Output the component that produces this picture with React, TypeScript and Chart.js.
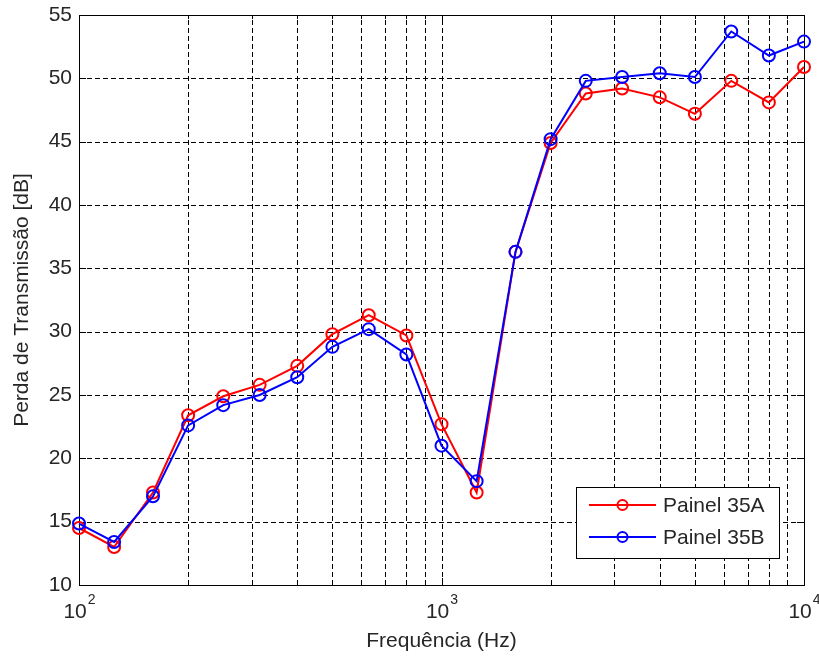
import React, { useEffect, useRef } from 'react';
import { Chart, registerables } from 'chart.js';

Chart.register(...registerables);

const frequencies = [100, 125, 160, 200, 250, 315, 400, 500, 630, 800, 1000, 1250, 1600, 2000, 2500, 3150, 4000, 5000, 6300, 8000, 10000];
const painel35A = [14.5, 13.0, 17.3, 23.4, 24.9, 25.8, 27.3, 29.8, 31.3, 29.7, 22.7, 17.3, 36.3, 44.9, 48.8, 49.2, 48.5, 47.2, 49.8, 48.1, 50.9];
const painel35B = [14.85, 13.4, 17.0, 22.6, 24.2, 25.0, 26.4, 28.8, 30.2, 28.2, 21.0, 18.2, 36.3, 45.2, 49.8, 50.1, 50.4, 50.1, 53.7, 51.8, 52.9];

const seriesLabels = ['Painel 35A', 'Painel 35B'];
const seriesColors = ['#ff0000', '#0000ff'];

const xGridValues = [100, 200, 300, 400, 500, 600, 700, 800, 900, 1000, 2000, 3000, 4000, 5000, 6000, 7000, 8000, 9000, 10000];
const xLabelValues = [100, 1000, 10000];
const xLabelExponents = ['2', '3', '4'];
const yMin = 10;
const yMax = 55;
const yStep = 5;

const xTitle = 'Frequência (Hz)';
const yTitle = 'Perda de Transmissão [dB]';

const FONT = '"Liberation Sans", Arial, sans-serif';
const TEXT = '#262626';

const decorPlugin = {
  id: 'decor',
  beforeDatasetsDraw(chart: any) {
    const { ctx, chartArea: a, scales } = chart;
    ctx.save();
    ctx.strokeStyle = '#000';
    ctx.lineWidth = 1;
    // dashed grid
    ctx.setLineDash([5, 3]);
    ctx.beginPath();
    for (let v = yMin + yStep; v < yMax; v += yStep) {
      const y = Math.round(scales.y.getPixelForValue(v)) + 0.5;
      ctx.moveTo(a.left, y); ctx.lineTo(a.right, y);
    }
    ctx.stroke();
    ctx.beginPath();
    xGridValues.forEach((v) => {
      if (v === 100 || v === 10000) return;
      const x = Math.round(scales.x.getPixelForValue(v)) + 0.5;
      ctx.moveTo(x, a.bottom); ctx.lineTo(x, a.top);
    });
    ctx.stroke();
    ctx.setLineDash([]);
    // inward tick marks
    ctx.beginPath();
    for (let v = yMin; v <= yMax; v += yStep) {
      const y = Math.round(scales.y.getPixelForValue(v)) + 0.5;
      ctx.moveTo(a.left, y); ctx.lineTo(a.left + 7, y);
      ctx.moveTo(a.right, y); ctx.lineTo(a.right - 7, y);
    }
    xGridValues.forEach((v) => {
      const x = Math.round(scales.x.getPixelForValue(v)) + 0.5;
      const len = xLabelValues.includes(v) ? 7 : 4;
      ctx.moveTo(x, a.bottom); ctx.lineTo(x, a.bottom - len);
      ctx.moveTo(x, a.top); ctx.lineTo(x, a.top + len);
    });
    ctx.stroke();
    ctx.strokeRect(Math.round(a.left) + 0.5, Math.round(a.top) + 0.5, Math.round(a.right - a.left), Math.round(a.bottom - a.top));
    ctx.restore();
  },
  afterDraw(chart: any) {
    const { ctx, chartArea: a, scales } = chart;
    ctx.save();
    ctx.fillStyle = TEXT;
    ctx.textBaseline = 'middle';
    ctx.textAlign = 'left';
    xLabelValues.forEach((v, i) => {
      const x = scales.x.getPixelForValue(v);
      ctx.font = `21px ${FONT}`;
      const bw = ctx.measureText('10').width;
      ctx.font = `14px ${FONT}`;
      const ew = ctx.measureText(xLabelExponents[i]).width;
      const start = x - (bw + ew) / 2;
      ctx.font = `21px ${FONT}`;
      ctx.fillText('10', start, a.bottom + 27);
      ctx.font = `14px ${FONT}`;
      ctx.fillText(xLabelExponents[i], start + bw + 1, a.bottom + 15);
    });
    // legend
    const bx = a.right - 228;
    const by = a.bottom - 98;
    const bw = 203;
    const bh = 71;
    ctx.fillStyle = '#fff';
    ctx.fillRect(bx, by, bw, bh);
    ctx.strokeStyle = '#000';
    ctx.lineWidth = 1;
    ctx.strokeRect(Math.round(bx) + 0.5, Math.round(by) + 0.5, bw, bh);
    const rows = [by + 18, by + 50];
    chart.data.datasets.forEach((ds: any, i: number) => {
      const y = rows[i];
      ctx.strokeStyle = ds.borderColor;
      ctx.lineWidth = 2;
      ctx.beginPath();
      ctx.moveTo(bx + 13, y);
      ctx.lineTo(bx + 80, y);
      ctx.stroke();
      ctx.beginPath();
      ctx.arc(bx + 46.5, y, 5, 0, Math.PI * 2);
      ctx.stroke();
      ctx.fillStyle = TEXT;
      ctx.font = `21px ${FONT}`;
      ctx.textAlign = 'left';
      ctx.textBaseline = 'middle';
      ctx.fillText(ds.label, bx + 87, y + 1);
    });
    ctx.restore();
  },
};

export default function App() {
  const ref = useRef<HTMLCanvasElement | null>(null);
  useEffect(() => {
    document.body.style.margin = '0';
    if (!ref.current) return;
    const makeData = (vals: number[]) => frequencies.map((f, i) => ({ x: f, y: vals[i] }));
    const ds = (i: number, vals: number[], order: number) => ({
      label: seriesLabels[i],
      data: makeData(vals),
      borderColor: seriesColors[i],
      backgroundColor: 'rgba(0,0,0,0)',
      borderWidth: 2,
      pointRadius: 6,
      pointBorderWidth: 2,
      pointBackgroundColor: 'rgba(0,0,0,0)',
      pointBorderColor: seriesColors[i],
      tension: 0,
      clip: false as any,
      order,
    });
    const chart = new Chart(ref.current, {
      type: 'line',
      data: {
        datasets: [ds(0, painel35A, 1), ds(1, painel35B, 0)],
      },
      options: {
        responsive: false,
        animation: false,
        layout: { padding: { top: 15, right: 15, left: 0, bottom: 0 } },
        plugins: { legend: { display: false }, tooltip: { enabled: false } },
        scales: {
          x: {
            type: 'logarithmic',
            min: 100,
            max: 10000,
            afterBuildTicks: (scale: any) => {
              scale.ticks = xGridValues.map((v) => ({ value: v }));
            },
            afterFit: (scale: any) => {
              scale.height = 73;
              scale.paddingLeft = 0;
              scale.paddingRight = 0;
            },
            ticks: { display: false },
            grid: { display: false },
            border: { display: false },
            title: {
              display: true,
              text: xTitle,
              color: TEXT,
              font: { family: FONT, size: 21 },
              padding: { top: 0, bottom: 4 },
            },
          },
          y: {
            type: 'linear',
            min: yMin,
            max: yMax,
            afterFit: (scale: any) => {
              scale.width = 79;
              scale.paddingTop = 0;
              scale.paddingBottom = 0;
            },
            ticks: {
              stepSize: yStep,
              color: TEXT,
              font: { family: FONT, size: 21 },
              padding: 7,
              autoSkip: false,
            },
            grid: { display: false, drawTicks: false },
            border: { display: false },
            title: {
              display: true,
              text: yTitle,
              color: TEXT,
              font: { family: FONT, size: 21 },
              padding: { top: 10, bottom: 0 },
            },
          },
        },
      },
      plugins: [decorPlugin],
    });
    return () => chart.destroy();
  }, []);
  return <canvas ref={ref} width={819} height={658} style={{ display: 'block' }} />;
}
